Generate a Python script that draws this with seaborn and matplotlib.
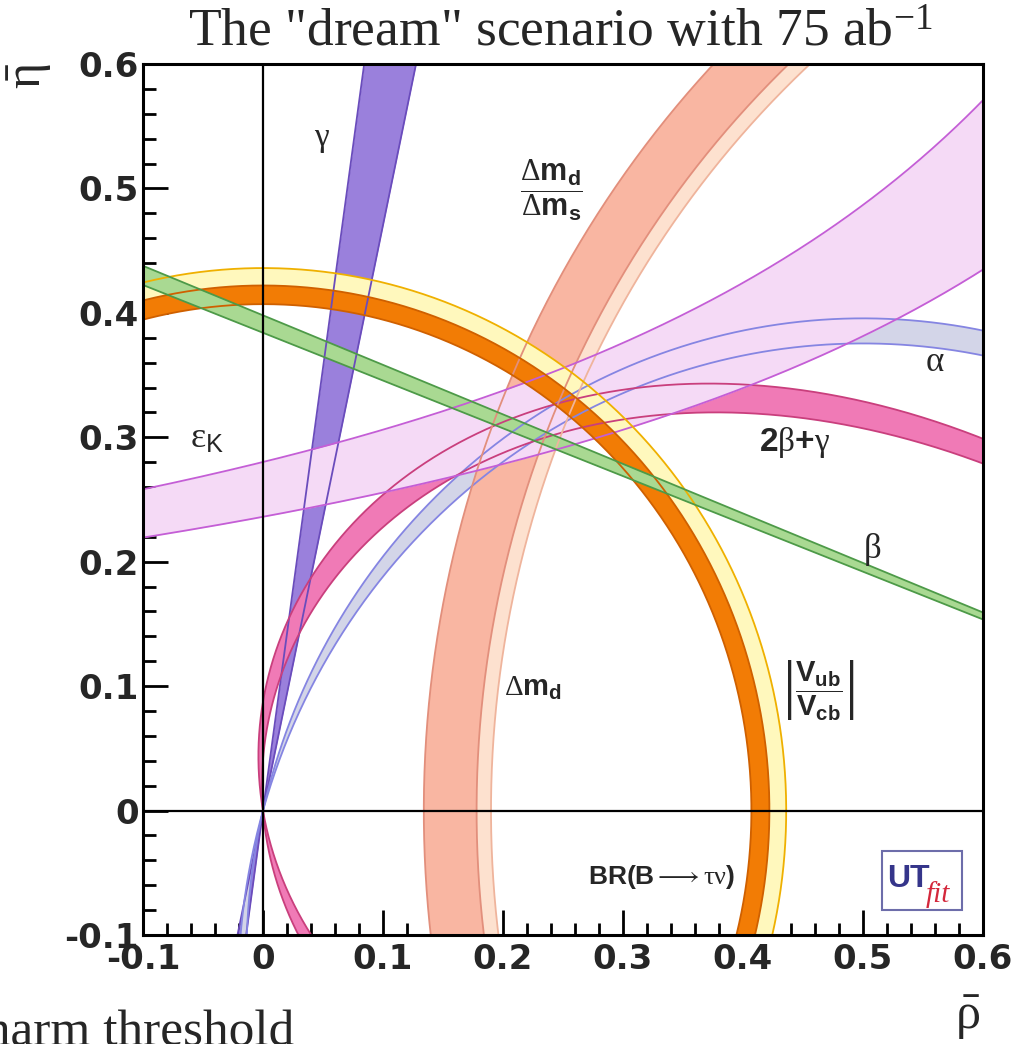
import numpy as np
import matplotlib
matplotlib.use("Agg")
import matplotlib.pyplot as plt
from matplotlib.ticker import MultipleLocator, FixedLocator
from matplotlib.patches import Rectangle
import seaborn as sns

# ---------------- values ----------------
# |Vub/Vcb| & BR(B->tau nu): circles about (0,0): inner edge, orange outer edge, yellow outer edge
VUB_RADII = [0.407, 0.422, 0.436]
# Delta m_d (peach) / Delta m_d/Delta m_s (salmon): circles about (1,0)
DMD_RADII = [0.810, 0.822, 0.866]
# gamma band: angles (deg) of lines through (0,0)
GAMMA_DEG = [78.0, 82.0]
# beta band: tan(beta) of lines through (1,0)
BETA_TAN = [0.384, 0.398]
# alpha band: inscribed angle (deg) on circles through (0,0),(1,0)
ALPHA_DEG = [103.3, 106.2]
# 2beta+gamma band (deg)
TWOBG_DEG = [94.7, 100.0]
# epsilon_K band: eta = c / (a - rho)  (upper edge, lower edge)
EPSK_A = [1.178, 1.313]
EPSK_C = [0.330, 0.310]

X_TICKS = [-0.1, 0.0, 0.1, 0.2, 0.3, 0.4, 0.5, 0.6]
X_TICK_LABELS = ["-0.1", "0", "0.1", "0.2", "0.3", "0.4", "0.5", "0.6"]
Y_TICKS = [-0.1, 0.0, 0.1, 0.2, 0.3, 0.4, 0.5, 0.6]
Y_TICK_LABELS = ["-0.1", "0", "0.1", "0.2", "0.3", "0.4", "0.5", "0.6"]

# ---------------- style ----------------
sns.set_theme(style="white")
plt.rcParams["font.family"] = ["Liberation Serif", "DejaVu Serif"]
plt.rcParams["mathtext.fontset"] = "custom"
plt.rcParams["mathtext.rm"] = "Liberation Serif"
plt.rcParams["mathtext.it"] = "Liberation Serif:italic"
plt.rcParams["mathtext.bf"] = "Liberation Sans:bold"
plt.rcParams["mathtext.sf"] = "Liberation Sans"

fig = plt.figure(figsize=(10.16, 10.44), dpi=100)
fig.patch.set_facecolor("white")
ax = fig.add_axes([143 / 1016, 109 / 1044, 840 / 1016, 871 / 1044])
ax.set_facecolor("white")


def circ(cx, cy, r, th):
    return cx + r * np.cos(th), cy + r * np.sin(th)


def edge(x, y, color, lw=1.3):
    sns.lineplot(x=x, y=y, sort=False, estimator=None, color=color,
                 linewidth=lw, ax=ax, zorder=3)


# ---- gamma (double wedge through origin) ----
eta_g = np.linspace(-0.15, 0.65, 400)
g_lines = [eta_g / np.tan(np.radians(g)) for g in GAMMA_DEG]
ax.fill_betweenx(eta_g, g_lines[0], g_lines[1], color="#9a80dc", lw=0, zorder=1.0)

# ---- alpha (two circles through (0,0) and (1,0)) ----
def alpha_arcs(a_deg, n=900):
    a = np.radians(a_deg)
    k = 0.5 / np.tan(a)
    r = 0.5 / np.sin(a)
    thA = np.arctan2(-k, 0.5)
    up = circ(0.5, k, r, np.linspace(thA, np.pi - thA, n))
    lo = circ(0.5, k, r, np.linspace(np.pi - thA, 2 * np.pi + thA, n))
    return up, lo

al = [alpha_arcs(a) for a in ALPHA_DEG]
for part in (0, 1):
    x1, y1 = al[0][part]
    x2, y2 = al[1][part]
    ax.fill(np.r_[x1, x2[::-1]], np.r_[y1, y2[::-1]], color="#d3d5e8", lw=0, zorder=1.1)

# ---- 2beta+gamma ----
def twobg(phi_deg, lower, n=900):
    phi = np.radians(phi_deg)
    if lower:
        phi = phi - np.pi
        g = np.linspace(phi + 1e-4, -1e-4, n)
    else:
        g = np.linspace(1e-4, phi - 1e-4, n)
    b = (phi - g) / 2
    s = np.sin((phi + g) / 2)
    return np.sin(b) * np.cos(g) / s, np.sin(b) * np.sin(g) / s

for lower in (False, True):
    x1, y1 = twobg(TWOBG_DEG[0], lower)
    x2, y2 = twobg(TWOBG_DEG[1], lower)
    ax.fill(np.r_[x1, x2[::-1]], np.r_[y1, y2[::-1]], color="#f07ab6", lw=0, zorder=1.2)

# ---- Delta m_d circles about (1,0) ----
th_d = np.radians(np.linspace(95, 200, 700))
def annulus(cx, cy, r1, r2, th):
    x1, y1 = circ(cx, cy, r1, th)
    x2, y2 = circ(cx, cy, r2, th[::-1])
    return np.r_[x1, x2], np.r_[y1, y2]

ax.fill(*annulus(1, 0, DMD_RADII[0], DMD_RADII[2], th_d), color="#fde1cf", lw=0, zorder=1.3)
ax.fill(*annulus(1, 0, DMD_RADII[1], DMD_RADII[2], th_d), color="#f9b6a2", lw=0, zorder=1.4)

# ---- epsilon_K ----
rho_e = np.linspace(-0.15, 0.65, 400)
e_up = EPSK_C[0] / (EPSK_A[0] - rho_e)
e_lo = EPSK_C[1] / (EPSK_A[1] - rho_e)
ax.fill_between(rho_e, e_lo, e_up, color="#f5daf6", lw=0, zorder=1.5)

# ---- |Vub/Vcb| ----
th_v = np.radians(np.linspace(-35, 130, 800))
ax.fill(*annulus(0, 0, VUB_RADII[0], VUB_RADII[2], th_v), color="#fff8bd", lw=0, zorder=1.6)
ax.fill(*annulus(0, 0, VUB_RADII[0], VUB_RADII[1], th_v), color="#f27c05", lw=0, zorder=1.7)

# ---- beta ----
rho_b = np.linspace(-0.15, 0.65, 400)
b_lines = [t * (1 - rho_b) for t in BETA_TAN]
ax.fill_between(rho_b, b_lines[0], b_lines[1], color="#a9d992", lw=0, zorder=1.8)

# ---- edges ----
for gl in g_lines:
    edge(gl, eta_g, "#6a4cbc")
for (up, lo) in al:
    edge(np.r_[up[0], lo[0]], np.r_[up[1], lo[1]], "#8585e2")
for phi in TWOBG_DEG:
    for lower in (False, True):
        x, y = twobg(phi, lower)
        edge(x, y, "#c93f7d")
edge(*circ(1, 0, DMD_RADII[0], th_d), "#efb49c")
edge(*circ(1, 0, DMD_RADII[1], th_d), "#e28f7c")
edge(*circ(1, 0, DMD_RADII[2], th_d), "#e28f7c")
edge(rho_e, e_up, "#c45ed6")
edge(rho_e, e_lo, "#c45ed6")
edge(*circ(0, 0, VUB_RADII[2], th_v), "#efb000")
edge(*circ(0, 0, VUB_RADII[1], th_v), "#cf6000")
edge(*circ(0, 0, VUB_RADII[0], th_v), "#cf6000")
for bl in b_lines:
    edge(rho_b, bl, "#4d9a48")

ax.axhline(0, color="black", lw=1.6, zorder=4)
ax.axvline(0, color="black", lw=1.6, zorder=4)

# ---- axes ----
ax.set_xlim(-0.1, 0.6)
ax.set_ylim(-0.1, 0.6)
ax.set_xlabel("")
ax.set_ylabel("")
ax.xaxis.set_major_locator(FixedLocator(X_TICKS))
ax.yaxis.set_major_locator(FixedLocator(Y_TICKS))
ax.set_xticklabels(X_TICK_LABELS, fontsize=24.5, fontweight="bold", family="DejaVu Sans")
ax.set_yticklabels(Y_TICK_LABELS, fontsize=24.5, fontweight="bold", family="DejaVu Sans")
ax.xaxis.set_minor_locator(MultipleLocator(0.02))
ax.yaxis.set_minor_locator(MultipleLocator(0.02))
ax.tick_params(which="major", direction="in", length=18, width=2.0, color="black",
               top=False, right=False, bottom=True, left=True)
ax.tick_params(which="minor", direction="in", length=9, width=2.0, color="black",
               top=False, right=False, bottom=True, left=True)
ax.tick_params(axis="x", which="major", pad=6)
ax.tick_params(axis="y", which="major", pad=3)
for sp in ax.spines.values():
    sp.set_visible(True)
    sp.set_color("black")
    sp.set_linewidth(2.2)
    sp.set_zorder(5)

# ---- labels in the plot ----
ax.text(0.049, 0.539, r"$\mathrm{\gamma}$", fontsize=24, ha="center", va="center", zorder=6)
ax.text(0.240, 0.499, r"$\dfrac{\mathrm{\Delta}\mathbf{m_d}}{\mathrm{\Delta}\mathbf{m_s}}$",
        fontsize=22, ha="center", va="center", zorder=6)
ax.text(0.560, 0.360, r"$\mathrm{\alpha}$", fontsize=25, ha="center", va="center", zorder=6)
ax.text(-0.047, 0.298, r"$\mathrm{\varepsilon}_{\mathsf{K}}$", fontsize=26, ha="center", va="center", zorder=6)
ax.text(0.443, 0.296, r"$\mathbf{2}\mathrm{\beta}\mathbf{+}\mathrm{\gamma}$", fontsize=24,
        ha="center", va="center", zorder=6)
ax.text(0.508, 0.2095, r"$\mathrm{\beta}$", fontsize=25, ha="center", va="center", zorder=6)
ax.text(0.225, 0.0985, r"$\mathrm{\Delta}\mathbf{m_d}$", fontsize=21, ha="center", va="center", zorder=6)
ax.text(0.4625, 0.097, r"$\left|\dfrac{\mathbf{V_{ub}}}{\mathbf{V_{cb}}}\right|$", fontsize=21,
        ha="center", va="center", zorder=6)
ax.text(0.3325, -0.0535, r"$\mathbf{BR(B}{\longrightarrow}\mathrm{\tau\nu}\mathbf{)}$", fontsize=19,
        ha="center", va="center", zorder=6)

# UTfit logo
ax.add_patch(Rectangle((0.880, 0.029), 0.095, 0.067, transform=ax.transAxes,
                       facecolor="white", edgecolor="#6d6daa", lw=1.5, zorder=6))
ax.text(0.886, 0.064, "UT", transform=ax.transAxes, fontsize=23, fontweight="bold",
        family="Liberation Sans", color="#35358a", ha="left", va="center", zorder=7)
ax.text(0.932, 0.047, "fit", transform=ax.transAxes, fontsize=21, style="italic",
        family="Liberation Serif", color="#d4283c", ha="left", va="center", zorder=7)

# ---- titles / axis titles ----
fig.text(560 / 1016, 1 - 47 / 1044, 'The "dream" scenario with 75 ab$^{\\mathrm{-1}}$',
         fontsize=38.5, ha="center", va="baseline", family="Liberation Serif")
fig.text(-38 / 1016, 1 - 1046 / 1044, "charm threshold", fontsize=37, ha="left",
         va="baseline", family="Liberation Serif")
fig.text(968 / 1016, 1 - 1018 / 1044, r"$\bar{\mathrm{\rho}}$", fontsize=36, ha="center", va="center")
fig.text(30 / 1016, 1 - 76 / 1044, r"$\bar{\mathrm{\eta}}$", fontsize=36, ha="center", va="center",
         rotation=90)

fig.savefig("out.png", dpi=100, facecolor="white")
